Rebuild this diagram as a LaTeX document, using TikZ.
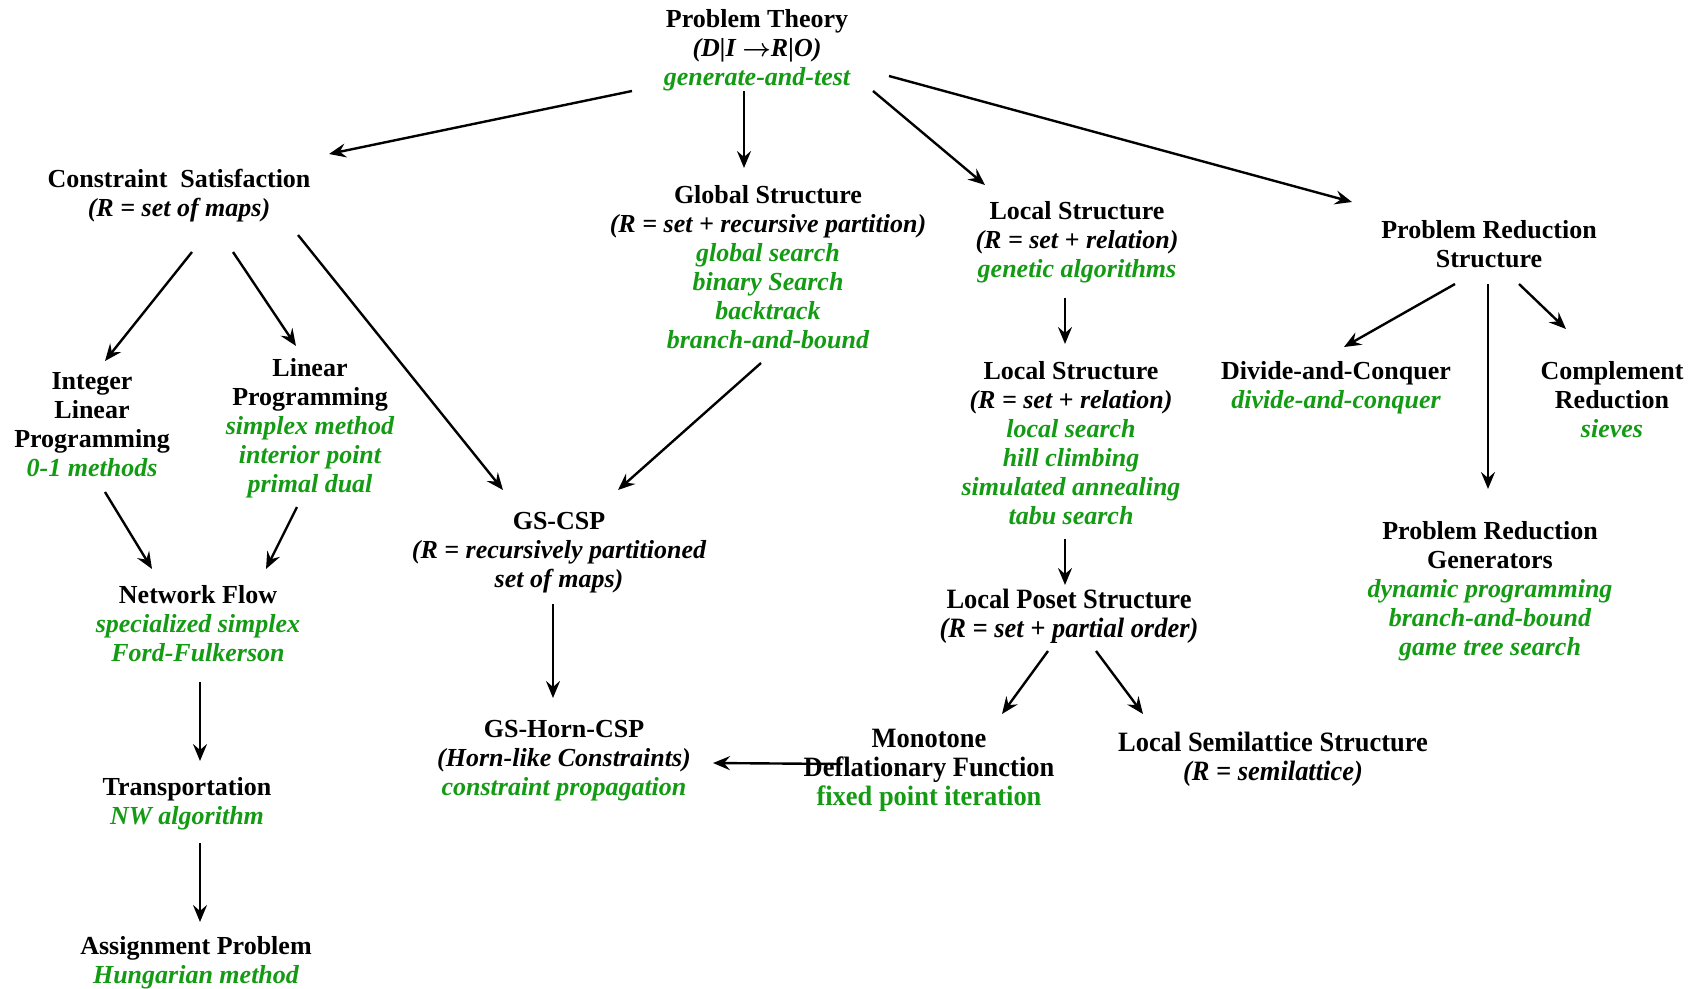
\documentclass[tikz,border=0pt]{standalone}
\usepackage{fontspec}
\setmainfont{Liberation Serif}
\newfontfamily\condbf[FakeStretch=0.945]{Liberation Serif Bold}
\newfontfamily\condbfit[FakeStretch=0.945]{Liberation Serif Bold Italic}
\usetikzlibrary{arrows.meta}
\definecolor{algo}{RGB}{20,155,20}
\newcommand\alg[1]{{\color{algo}\itshape #1}}
\newcommand\rel[1]{{\itshape #1}}
\newcommand\nrel[1]{{\condbfit #1}}
\newcommand\maparrow{{\boldmath$\rightarrow$}}

\begin{document}
\begin{tikzpicture}[x=1pt,y=-1pt,
  concept/.style={align=center,inner sep=0pt,anchor=north,
    font=\fontsize{26}{29}\selectfont\bfseries},
  narrow/.style={font=\fontsize{28}{29}\selectfont\condbf},
  link/.style={line width=2.4pt,-{Stealth[length=17pt,width=14pt,inset=6pt]}}]
\useasboundingbox[fill=white] (0,0) rectangle (1704,988);

% concepts
\node[concept] (pt) at (757,7.2) {\strut Problem Theory\\ \rel{(D|I \maparrow R|O)}\\ \alg{generate-and-test}};
\node[concept] (cs) at (179,166.7) {\strut Constraint~~Satisfaction\\ \rel{(R = set of maps)}};
\node[concept] (gs) at (768,183.2) {\strut Global Structure\\ \rel{(R = set + recursive partition)}\\ \alg{global search}\\ \alg{binary Search}\\ \alg{backtrack}\\ \alg{branch-and-bound}};
\node[concept] (ls1) at (1077,198.7) {\strut Local Structure\\ \rel{(R = set + relation)}\\ \alg{genetic algorithms}};
\node[concept] (prs) at (1489,217.7) {\strut Problem Reduction\\ Structure};
\node[concept] (ilp) at (92,368.7) {\strut Integer\\ Linear\\ Programming\\ \alg{0-1 methods}};
\node[concept] (lp) at (310,355.7) {\strut Linear\\ Programming\\ \alg{simplex method}\\ \alg{interior point}\\ \alg{primal dual}};
\node[concept] (gscsp) at (559,509.2) {\strut GS-CSP\\ \rel{(R = recursively partitioned}\\ \rel{set of maps)}};
\node[concept] (ls2) at (1071,359.3) {\strut Local Structure\\ \rel{(R = set + relation)}\\ \alg{local search}\\ \alg{hill climbing}\\ \alg{simulated annealing}\\ \alg{tabu search}};
\node[concept] (dc) at (1336,359.3) {\strut Divide-and-Conquer\\ \alg{divide-and-conquer}};
\node[concept] (cr) at (1612,359.3) {\strut Complement\\ Reduction\\ \alg{sieves}};
\node[concept] (nf) at (198,582.7) {\strut Network Flow\\ \alg{specialized simplex}\\ \alg{Ford-Fulkerson}};
\node[concept,narrow] (poset) at (1069,588) {\strut Local Poset Structure\\ \nrel{(R = set + partial order)}};
\node[concept] (gen) at (1490,518.7) {\strut Problem Reduction\\ Generators\\ \alg{dynamic programming}\\ \alg{branch-and-bound}\\ \alg{game tree search}};
\node[concept] (horn) at (564,716.7) {\strut GS-Horn-CSP\\ \rel{(Horn-like Constraints)}\\ \alg{constraint propagation}};
\node[concept,narrow] (mono) at (929,727) {\strut Monotone\\ Deflationary Function\\ {\color{algo}fixed point iteration}};
\node[concept,narrow] (semi) at (1273,731) {\strut Local Semilattice Structure\\ \nrel{(R = semilattice)}};
\node[concept] (trans) at (187,774.7) {\strut Transportation\\ \alg{NW algorithm}};
\node[concept] (assign) at (196,934.2) {\strut Assignment Problem\\ \alg{Hungarian method}};

% refinement links
\draw[link] ([shift={(-125,83.8)}]pt.north) -- ([shift={(150,-12.7)}]cs.north);
\draw[link] ([shift={(-13,83.8)}]pt.north) -- ([shift={(-24,-15.2)}]gs.north);
\draw[link] ([shift={(116,83.8)}]pt.north) -- ([shift={(-92,-13.7)}]ls1.north);
\draw[link] ([shift={(132,68.8)}]pt.north) -- ([shift={(-137,-15.7)}]prs.north);
\draw[link] ([shift={(13,85.3)}]cs.north) -- ([shift={(13,-7.7)}]ilp.north);
\draw[link] ([shift={(54,85.3)}]cs.north) -- ([shift={(-14,-9.7)}]lp.north);
\draw[link] ([shift={(119,68.3)}]cs.north) -- ([shift={(-56,-19.2)}]gscsp.north);
\draw[link] ([shift={(-7,179.8)}]gs.north) -- ([shift={(59,-19.2)}]gscsp.north);
\draw[link] ([shift={(13,123.3)}]ilp.north) -- ([shift={(-46,-13.7)}]nf.north);
\draw[link] ([shift={(-13,151.3)}]lp.north) -- ([shift={(68,-13.7)}]nf.north);
\draw[link] ([shift={(2,99.3)}]nf.north) -- ([shift={(13,-13.7)}]trans.north);
\draw[link] ([shift={(13,68.3)}]trans.north) -- ([shift={(4,-12.2)}]assign.north);
\draw[link] ([shift={(-6,94.8)}]gscsp.north) -- ([shift={(-11,-18.7)}]horn.north);
\draw[link] ([shift={(-12,99.3)}]ls1.north) -- ([shift={(-6,-15.3)}]ls2.north);
\draw[link] ([shift={(-6,179.7)}]ls2.north) -- ([shift={(-4,-3)}]poset.north);
\draw[link] ([shift={(-21,63)}]poset.north) -- ([shift={(73,-13)}]mono.north);
\draw[link] ([shift={(27,63)}]poset.north) -- ([shift={(-130,-17)}]semi.north);
\draw[link] ([shift={(-87,37)}]mono.north) -- ([shift={(149,46.3)}]horn.north);
\draw[link] ([shift={(-34,66.3)}]prs.north) -- ([shift={(8,-12.3)}]dc.north);
\draw[link] ([shift={(-1,66.3)}]prs.north) -- ([shift={(-2,-29.7)}]gen.north);
\draw[link] ([shift={(30,66.3)}]prs.north) -- ([shift={(-46,-30.3)}]cr.north);
\end{tikzpicture}
\end{document}
